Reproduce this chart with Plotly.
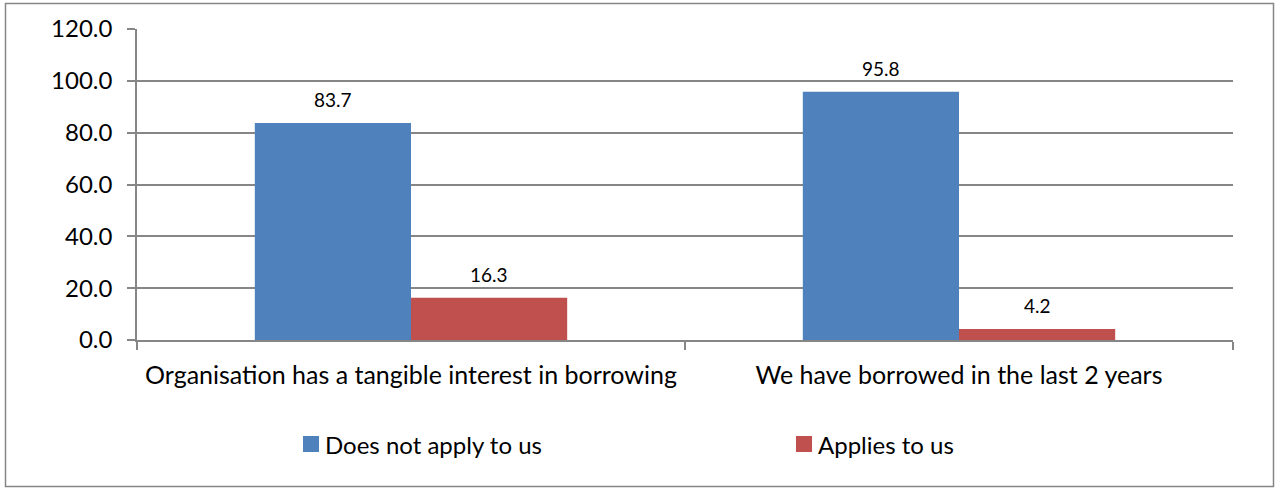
import plotly.graph_objects as go

categories = ["Organisation has a tangible interest in borrowing", "We have borrowed in the last 2 years"]
series_names = ["Does not apply to us", "Applies to us"]
does_not_apply = [83.7, 95.8]
applies = [16.3, 4.2]
y_ticks = [0, 20, 40, 60, 80, 100, 120]
y_tick_labels = ["0.0", "20.0", "40.0", "60.0", "80.0", "100.0", "120.0"]

colors = ["#4F81BD", "#C0504D"]
FONT = "Lato"
W, H = 1277, 489
L, R, T, B = 137, 44, 29, 149
PW, PH = W - L - R, H - T - B

def px_x(p):
    return (p - L) / PW

def px_y(p):
    return (H - B - p) / PH

fig = go.Figure()
for name, vals, c in zip(series_names, [does_not_apply, applies], colors):
    fig.add_trace(go.Bar(x=categories, y=vals, name=name, marker=dict(color=c, line=dict(width=0)),
                         showlegend=False))

# data labels
bar_px = PW / len(categories) * (1 - 0.43) / 2
for i, vals in enumerate([does_not_apply, applies]):
    shift = (-0.5 if i == 0 else 0.5) * bar_px
    for cat, v in zip(categories, vals):
        fig.add_annotation(x=cat, y=v, text=f"{v:.1f}", showarrow=False, xshift=shift, yshift=10,
                           yanchor="bottom", font=dict(family=FONT, size=19, color="#000000"))

# manual legend
legend_pos = [303, 796]
for name, c, lx in zip(series_names, colors, legend_pos):
    fig.add_shape(type="rect", xref="paper", yref="paper", x0=px_x(lx), x1=px_x(lx + 16),
                  y0=px_y(452), y1=px_y(436), fillcolor=c, line=dict(width=0))
    fig.add_annotation(xref="paper", yref="paper", x=px_x(lx + 20), y=px_y(444), text=name,
                       showarrow=False, xanchor="left", yanchor="middle",
                       font=dict(family=FONT, size=24, color="#000000"))

# outer border
fig.add_shape(type="rect", xref="paper", yref="paper", x0=px_x(5.5), x1=px_x(1273.5),
              y0=px_y(486.5), y1=px_y(3.5), line=dict(color="#868686", width=1.5), layer="below")

fig.update_layout(
    width=W, height=H,
    margin=dict(l=L, r=R, t=T, b=B, pad=0),
    paper_bgcolor="white", plot_bgcolor="white",
    barmode="group", bargap=0.43, bargroupgap=0,
    font=dict(family=FONT, size=24, color="#000000"),
    xaxis=dict(type="category", showgrid=False, showline=True, linecolor="#868686", linewidth=1.5,
               ticks="outside", tickson="boundaries", ticklen=8, tickcolor="#868686", tickwidth=1.5,
               tickfont=dict(family=FONT, size=25, color="#000000"), ticklabelstandoff=12),
    yaxis=dict(range=[0, 120], tickvals=y_ticks, ticktext=y_tick_labels, showgrid=True,
               gridcolor="#868686", gridwidth=1.5, showline=True, linecolor="#868686", linewidth=1.5,
               ticks="outside", ticklen=8, tickcolor="#868686", tickwidth=1.5, zeroline=False,
               tickfont=dict(family=FONT, size=24, color="#000000"), ticklabelstandoff=10),
)

fig.write_html("out.html")
